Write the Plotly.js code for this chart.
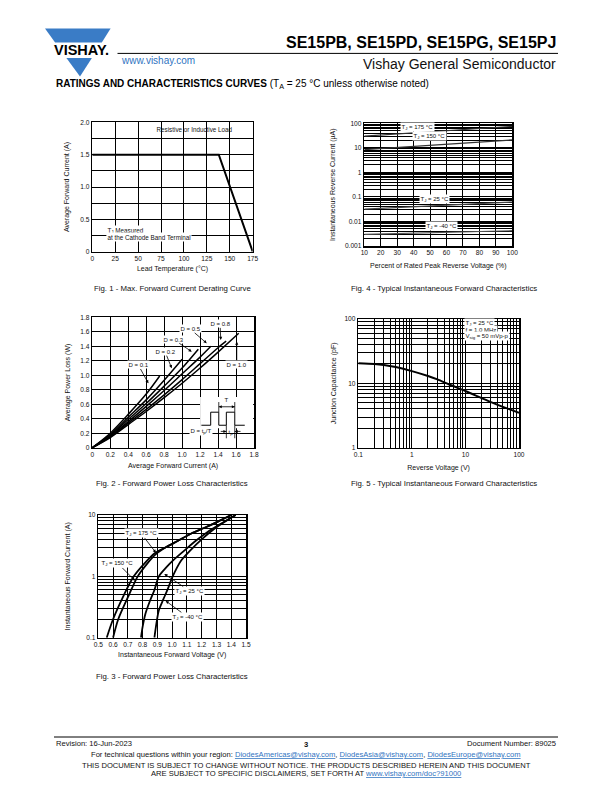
<!DOCTYPE html>
<html><head><meta charset="utf-8">
<script src="https://cdn.plot.ly/plotly-3.0.1.min.js"></script>
<style>html,body{margin:0;padding:0;background:#fff}#chart{width:612px;height:792px}</style>
</head><body><div id="chart"></div>
<script>
// ================= DATA =================
// Fig. 1 - Max. Forward Current Derating Curve
const fig1Temp = [0, 138, 175];
const fig1Current = [1.5, 1.5, 0];
const fig1XTicks = [0, 25, 50, 75, 100, 125, 150, 175];
const fig1YLabels = ['0', '0.5', '1.0', '1.5', '2.0'];

// Fig. 4 - reverse current vs percent of rated voltage
const fig4Percent = [10, 40, 70, 100];
const fig4Tj175 = [30, 40, 55, 75];
const fig4Tj150 = [8.5, 11.5, 15.5, 21];
const fig4Tj25 = [0.032, 0.039, 0.049, 0.062];
const fig4TjM40 = [0.003, 0.0033, 0.0037, 0.0042];
const fig4YLabels = ['0.001', '0.01', '0.1', '1', '10', '100'];

// Fig. 2 - Forward power loss
const fig2D01I = [0, 0.2, 0.4, 0.6, 0.75];
const fig2D01P = [0, 0.2, 0.46, 0.74, 0.99];
const fig2D02I = [0, 0.2, 0.4, 0.6, 0.8, 1.0];
const fig2D02P = [0, 0.18, 0.42, 0.66, 0.93, 1.22];
const fig2D03I = [0, 0.2, 0.4, 0.6, 0.8, 1.0, 1.18];
const fig2D03P = [0, 0.17, 0.39, 0.61, 0.85, 1.1, 1.36];
const fig2D05I = [0, 0.2, 0.4, 0.6, 0.8, 1.0, 1.2, 1.32];
const fig2D05P = [0, 0.16, 0.36, 0.57, 0.79, 1.02, 1.25, 1.4];
const fig2D08I = [0, 0.2, 0.4, 0.6, 0.8, 1.0, 1.2, 1.4, 1.49];
const fig2D08P = [0, 0.15, 0.34, 0.53, 0.73, 0.94, 1.16, 1.38, 1.47];
const fig2D10I = [0, 0.2, 0.4, 0.6, 0.8, 1.0, 1.2, 1.4, 1.63];
const fig2D10P = [0, 0.14, 0.32, 0.5, 0.69, 0.89, 1.1, 1.32, 1.58];
const fig2Labels = ['0', '0.2', '0.4', '0.6', '0.8', '1.0', '1.2', '1.4', '1.6', '1.8'];

// Fig. 5 - Junction capacitance
const fig5Volt = [0.1, 0.2, 0.3, 0.5, 1, 2, 3, 5, 10, 20, 30, 50, 100];
const fig5Cap = [20.5, 20, 19.3, 17.9, 15.5, 13, 11.5, 9.6, 7.6, 5.9, 5.1, 4.3, 3.5];
const fig5XLabels = ['0.1', '1', '10', '100'];
const fig5YLabels = ['1', '10', '100'];

// Fig. 3 - Instantaneous forward characteristics
const fig3V175 = [0.557, 0.60, 0.674, 0.74, 0.81, 0.884, 0.96, 1.04, 1.13, 1.22, 1.31, 1.40];
const fig3I175 = [0.1, 0.2, 0.5, 1.0, 1.6, 2.4, 3.0, 3.8, 5.0, 6.2, 7.8, 10];
const fig3V150 = [0.60, 0.635, 0.708, 0.767, 0.83, 0.89, 0.96, 1.04, 1.13, 1.22, 1.31, 1.40];
const fig3I150 = [0.1, 0.2, 0.5, 1.0, 1.6, 2.3, 3.0, 3.8, 5.0, 6.2, 7.8, 10];
const fig3V25 = [0.789, 0.80, 0.82, 0.85, 0.88, 0.91, 0.96, 1.01, 1.08, 1.16, 1.24, 1.33, 1.43];
const fig3I25 = [0.1, 0.15, 0.25, 0.4, 0.6, 1.0, 1.4, 1.85, 2.6, 3.8, 5.3, 7.2, 10];
const fig3VM40 = [0.88, 0.89, 0.91, 0.94, 0.97, 1.0, 1.03, 1.06, 1.12, 1.20, 1.30, 1.43];
const fig3IM40 = [0.1, 0.15, 0.28, 0.42, 0.62, 0.95, 1.35, 1.8, 2.6, 4.0, 6.3, 10];
const fig3XLabels = ['0.5', '0.6', '0.7', '0.8', '0.9', '1.0', '1.1', '1.2', '1.3', '1.4', '1.5'];
const fig3YLabels = ['0.1', '1', '10'];

// ================= HELPERS =================
const W = 612, H = 792;
const PX = x => x / W, PY = y => 1 - y / H;
const F = 'Liberation Sans, Arial, Helvetica, sans-serif';
const TICKF = {family: F, size: 6.6, color: '#111'};
const TITLEF = {family: F, size: 7, color: '#111'};
const GRID = {showgrid: true, gridcolor: '#000', gridwidth: 1, ticks: ''};

// subscript drawn with a baseline shift (no extra spacer text)
const sub = (t, size) => '<span style="font-size:' + (size * 0.72).toFixed(2) + 'px;baseline-shift:-' + (size * 0.22).toFixed(2) + 'px">' + t + '</span>';
const TJ = s => 'T' + sub('J', s);

// log axes: labelled decades as major ticks, 2..9 of each decade as minor gridlines
function logGrid(labels) {
  const dec = labels.map(parseFloat), minor = [];
  dec.slice(0, -1).forEach(d => { for (let m = 2; m <= 9; m++) minor.push(+(d * m).toPrecision(6)); });
  return {tickmode: 'array', tickvals: dec, ticktext: labels,
    minor: Object.assign({tickmode: 'array', tickvals: minor}, GRID)};
}
function labelsAsVals(labels) {
  return {tickmode: 'array', tickvals: labels.map(parseFloat), ticktext: labels};
}
function axis(o) {
  return Object.assign({
    showline: true, mirror: true, linecolor: '#000', linewidth: 1.5,
    showgrid: true, gridcolor: '#000', gridwidth: 1, zeroline: false,
    ticks: '', tickfont: TICKF, automargin: false, fixedrange: true
  }, o);
}
function aTitle(t, s) { return {text: t, font: TITLEF, standoff: s}; }

// ================= TRACES =================
const line = (x, y, xa, ya, w, c, sh) => ({
  x, y, xaxis: xa, yaxis: ya, type: 'scatter', mode: 'lines', hoverinfo: 'skip',
  line: {color: c || '#000', width: w || 1.8, shape: sh || 'linear', smoothing: 0.8}
});
const traces = [
  line(fig1Temp, fig1Current, 'x', 'y', 2),
  line(fig4Percent, fig4Tj175, 'x2', 'y2', 1.2, '#333'),
  line(fig4Percent, fig4Tj150, 'x2', 'y2', 1.2, '#333'),
  line(fig4Percent, fig4Tj25, 'x2', 'y2', 1.2, '#444'),
  line(fig4Percent, fig4TjM40, 'x2', 'y2', 1.2, '#555'),
  line(fig2D01I, fig2D01P, 'x3', 'y3', 1.5, '#000', 'spline'),
  line(fig2D02I, fig2D02P, 'x3', 'y3', 1.5, '#000', 'spline'),
  line(fig2D03I, fig2D03P, 'x3', 'y3', 1.5, '#000', 'spline'),
  line(fig2D05I, fig2D05P, 'x3', 'y3', 1.5, '#000', 'spline'),
  line(fig2D08I, fig2D08P, 'x3', 'y3', 1.5, '#000', 'spline'),
  line(fig2D10I, fig2D10P, 'x3', 'y3', 1.5, '#000', 'spline'),
  line(fig5Volt, fig5Cap, 'x4', 'y4', 2, '#000', 'spline'),
  line(fig3V175, fig3I175, 'x5', 'y5', 1.8, '#000', 'spline'),
  line(fig3V150, fig3I150, 'x5', 'y5', 1.8, '#000', 'spline'),
  line(fig3V25, fig3I25, 'x5', 'y5', 1.8, '#000', 'spline'),
  line(fig3VM40, fig3IM40, 'x5', 'y5', 1.8, '#000', 'spline')
];

// ================= ANNOTATIONS =================
function pt(x, y, text, size, opts) {
  return Object.assign({xref: 'paper', yref: 'paper', x: PX(x), y: PY(y), text, showarrow: false,
    font: {family: F, size, color: '#111'}, xanchor: 'center', yanchor: 'middle'}, opts || {});
}
function dl(xr, yr, x, y, text, opts) {
  return Object.assign({xref: xr, yref: yr, x, y, text, showarrow: false,
    font: {family: F, size: 6, color: '#111'}, bgcolor: '#fff', borderpad: 0.5}, opts || {});
}
function arr(xr, yr, x, y, ax, ay, text, opts) {
  return Object.assign({xref: xr, yref: yr, axref: xr, ayref: yr, x, y, ax, ay, text, showarrow: true,
    arrowhead: 2, arrowsize: 0.8, arrowwidth: 0.8, arrowcolor: '#000', standoff: 0,
    font: {family: F, size: 6, color: '#111'}, bgcolor: '#fff', borderpad: 0.5}, opts || {});
}
const blue = '#2f73bf';
const link = t => '<span style="color:' + blue + ';text-decoration:underline">' + t + '</span>';
const annotations = [
  // header
  pt(52, 49.5, '<b>VISHAY.</b>', 14.5, {xanchor: 'left', font: {family: F, size: 14.5, color: '#000'}}),
  pt(558, 43, '<b>SE15PB, SE15PD, SE15PG, SE15PJ</b>', 16, {xanchor: 'right', font: {family: F, size: 16, color: '#000'}}),
  pt(119, 60, 'www.vishay.com', 10, {xanchor: 'left', font: {family: F, size: 10, color: blue}}),
  pt(558, 64, 'Vishay General Semiconductor', 14, {xanchor: 'right', font: {family: F, size: 14, color: '#111'}}),
  pt(54, 84, '<b>RATINGS AND CHARACTERISTICS CURVES</b> (T' + sub('A', 10) + ' = 25 °C unless otherwise noted)', 10, {xanchor: 'left', font: {family: F, size: 10, color: '#000'}}),
  // captions
  pt(172, 288, 'Fig. 1 - Max. Forward Current Derating Curve', 7.8),
  pt(444, 288, 'Fig. 4 - Typical Instantaneous Forward Characteristics', 7.8),
  pt(172, 483, 'Fig. 2 - Forward Power Loss Characteristics', 7.8),
  pt(444, 483, 'Fig. 5 - Typical Instantaneous Forward Characteristics', 7.8),
  pt(172, 676, 'Fig. 3 - Forward Power Loss Characteristics', 7.8),
  // footer
  pt(54, 743, 'Revision: 16-Jun-2023', 7.6, {xanchor: 'left'}),
  pt(306, 744, '<b>3</b>', 7.6),
  pt(558, 743, 'Document Number: 89025', 7.6, {xanchor: 'right'}),
  pt(306, 754.5, 'For technical questions within your region: ' + link('DiodesAmericas@vishay.com') + ', ' + link('DiodesAsia@vishay.com') + ', ' + link('DiodesEurope@vishay.com'), 7.6),
  pt(306, 765, 'THIS DOCUMENT IS SUBJECT TO CHANGE WITHOUT NOTICE. THE PRODUCTS DESCRIBED HEREIN AND THIS DOCUMENT', 7.6),
  pt(306, 773.5, 'ARE SUBJECT TO SPECIFIC DISCLAIMERS, SET FORTH AT ' + link('www.vishay.com/doc?91000'), 7.6),

  // Fig 1 labels
  dl('x', 'y', 112, 1.89, 'Resistive or Inductive Load', {bgcolor: 'rgba(0,0,0,0)', font: {family: F, size: 6.3, color: '#111'}}),
  dl('x', 'y', 15, 0.325, TJ(6.3) + ' Measured', {xanchor: 'left', font: {family: F, size: 6.3, color: '#111'}}),
  dl('x', 'y', 15, 0.232, 'at the Cathode Band Terminal', {xanchor: 'left', font: {family: F, size: 6.3, color: '#111'}}),

  // Fig 4 labels (log y)
  dl('x2', 'y2', 42.4, 1.86, TJ(6) + ' = 175 °C'),
  dl('x2', 'y2', 49.4, 1.47, TJ(6) + ' = 150 °C'),
  dl('x2', 'y2', 52.4, -1.09, TJ(6) + ' = 25 °C'),
  dl('x2', 'y2', 57, -2.18, TJ(6) + ' = -40 °C'),

  // Fig 2 labels
  arr('x3', 'y3', 0.624, 0.889, 0.512, 1.142, 'D = 0.1'),
  arr('x3', 'y3', 0.884, 1.097, 0.81, 1.326, 'D = 0.2'),
  arr('x3', 'y3', 1.107, 1.326, 0.902, 1.497, 'D = 0.3'),
  arr('x3', 'y3', 1.274, 1.442, 1.088, 1.64, 'D = 0.5'),
  arr('x3', 'y3', 1.43, 1.488, 1.422, 1.709, 'D = 0.8'),
  arr('x3', 'y3', 1.608, 1.464, 1.608, 1.152, 'D = 1.0'),
  // Fig 2 inset texts
  dl('x3', 'y3', 1.497, 0.665, 'T', {bgcolor: 'rgba(0,0,0,0)'}),
  dl('x3', 'y3', 1.539, 0.215, 't' + sub('p', 6), {bgcolor: 'rgba(0,0,0,0)'}),
  dl('x3', 'y3', 1.215, 0.225, 'D = t' + sub('p', 6) + '/T'),

  // Fig 5 box
  dl('x4', 'y4', 0.975, 1.945, TJ(6) + ' = 25 °C', {xanchor: 'left', yanchor: 'middle'}),
  dl('x4', 'y4', 0.975, 1.84, 'f = 1.0 MHz', {xanchor: 'left', yanchor: 'middle'}),
  dl('x4', 'y4', 0.975, 1.735, 'V' + sub('sig', 6) + ' = 50 mVp-p', {xanchor: 'left', yanchor: 'middle'}),

  // Fig 3 labels (log y)
  arr('x5', 'y5', 0.89, 0.385, 0.79, 0.70, TJ(6) + ' = 175 °C'),
  arr('x5', 'y5', 0.748, -0.07, 0.633, 0.21, TJ(6) + ' = 150 °C'),
  arr('x5', 'y5', 0.947, 0.04, 1.12, -0.24, TJ(6) + ' = 25 °C'),
  arr('x5', 'y5', 0.956, -0.40, 1.104, -0.66, TJ(6) + ' = -40 °C')
];

// ================= SHAPES =================
function poly(pts) {
  return 'M' + pts.map(p => PX(p[0]) + ',' + PY(p[1])).join(' L') + ' Z';
}
const logoBlue = '#3a7cc6';
const k = {color: '#000', width: 0.8};
// small arrowhead in Fig 2 data units (dir = +1 points right, -1 points left)
function head(xt, yt, dir) {
  const dx = 0.033 * dir, dy = 0.021;
  return {type: 'path', xref: 'x3', yref: 'y3', layer: 'above', fillcolor: '#000', line: {width: 0},
    path: 'M' + xt + ',' + yt + ' L' + (xt - dx) + ',' + (yt - dy) + ' L' + (xt - dx) + ',' + (yt + dy) + ' Z'};
}
const seg = (x0, y0, x1, y1) => ({type: 'line', xref: 'x3', yref: 'y3', x0, y0, x1, y1, line: k, layer: 'above'});
const shapes = [
  {type: 'path', xref: 'paper', yref: 'paper', path: poly([[45, 28.6], [110.6, 28.6], [101.8, 42.4], [55.1, 42.4]]), fillcolor: logoBlue, line: {width: 0}},
  {type: 'path', xref: 'paper', yref: 'paper', path: poly([[66.4, 57.9], [91.9, 57.9], [80, 76.5]]), fillcolor: logoBlue, line: {width: 0}},
  {type: 'line', xref: 'paper', yref: 'paper', x0: PX(117.5), x1: PX(558), y0: PY(53.4), y1: PY(53.4), line: {color: '#000', width: 1}},
  {type: 'line', xref: 'paper', yref: 'paper', x0: PX(54), x1: PX(558), y0: PY(737), y1: PY(737), line: {color: '#000', width: 1}},
  // Fig 2 inset: blank panel + pulse waveform
  {type: 'rect', xref: 'x3', yref: 'y3', x0: 1.2, x1: 1.79, y0: 0.27, y1: 0.7, fillcolor: '#fff', line: {width: 0}, layer: 'above'},
  {type: 'path', xref: 'x3', yref: 'y3', path: 'M1.214,0.31 L1.318,0.31 L1.318,0.49 L1.408,0.49 L1.408,0.31 L1.492,0.31 L1.492,0.49 L1.586,0.49 L1.586,0.31 L1.697,0.31', line: {color: '#000', width: 1}, layer: 'above'},
  seg(1.408, 0.49, 1.408, 0.63), seg(1.586, 0.49, 1.586, 0.63),
  seg(1.492, 0.31, 1.492, 0.13), seg(1.586, 0.31, 1.586, 0.13),
  seg(1.408, 0.565, 1.586, 0.565), head(1.408, 0.565, -1), head(1.586, 0.565, 1),
  seg(1.43, 0.225, 1.492, 0.225), head(1.492, 0.225, 1),
  seg(1.586, 0.225, 1.65, 0.225), head(1.586, 0.225, -1)
];

// ================= LAYOUT =================
const layout = {
  width: W, height: H, margin: {l: 0, r: 0, t: 0, b: 0},
  paper_bgcolor: '#fff', plot_bgcolor: '#fff', showlegend: false,
  font: {family: F, color: '#111'},
  // Fig 1
  xaxis: axis({domain: [PX(92.3), PX(252.7)], anchor: 'y', range: [0, 175], tickmode: 'array', tickvals: fig1XTicks,
    title: aTitle('Lead Temperature (°C)', 5)}),
  yaxis: axis(Object.assign({domain: [PY(251.7), PY(122.3)], anchor: 'x', range: [0, 2],
    minor: Object.assign({dtick: 0.25, tick0: 0}, GRID),
    title: aTitle('Average Forward Current (A)', 10)}, labelsAsVals(fig1YLabels))),
  // Fig 4
  xaxis2: axis({domain: [PX(364.3), PX(512.3)], anchor: 'y2', range: [10, 100], dtick: 10, tick0: 10,
    title: aTitle('Percent of Rated Peak Reverse Voltage (%)', 7)}),
  yaxis2: axis(Object.assign({domain: [PY(246), PY(123.3)], anchor: 'x2', type: 'log', range: [-3, 2],
    title: aTitle('Instantaneous Reverse Current (µA)', 8)}, logGrid(fig4YLabels))),
  // Fig 2
  xaxis3: axis(Object.assign({domain: [PX(92.3), PX(254)], anchor: 'y3', range: [0, 1.8],
    title: aTitle('Average Forward Current (A)', 6)}, labelsAsVals(fig2Labels))),
  yaxis3: axis(Object.assign({domain: [PY(447.7), PY(317.3)], anchor: 'x3', range: [0, 1.8],
    title: aTitle('Average Power Loss (W)', 9)}, labelsAsVals(fig2Labels))),
  // Fig 5
  xaxis4: axis(Object.assign({domain: [PX(358.3), PX(519)], anchor: 'y4', type: 'log', range: [-1, 2],
    title: aTitle('Reverse Voltage (V)', 8)}, logGrid(fig5XLabels))),
  yaxis4: axis(Object.assign({domain: [PY(447.7), PY(319)], anchor: 'x4', type: 'log', range: [0, 2],
    title: aTitle('Junction Capacitance (pF)', 7)}, logGrid(fig5YLabels))),
  // Fig 3
  xaxis5: axis(Object.assign({domain: [PX(98.3), PX(246)], anchor: 'y5', range: [0.5, 1.5],
    title: aTitle('Instantaneous Forward Voltage (V)', 5)}, labelsAsVals(fig3XLabels))),
  yaxis5: axis(Object.assign({domain: [PY(637.7), PY(515)], anchor: 'x5', type: 'log', range: [-1, 1],
    title: aTitle('Instantaneous Forward Current (A)', 15)}, logGrid(fig3YLabels))),
  annotations, shapes
};

Plotly.newPlot('chart', traces, layout, {staticPlot: true, displayModeBar: false});
</script>
</body></html>
